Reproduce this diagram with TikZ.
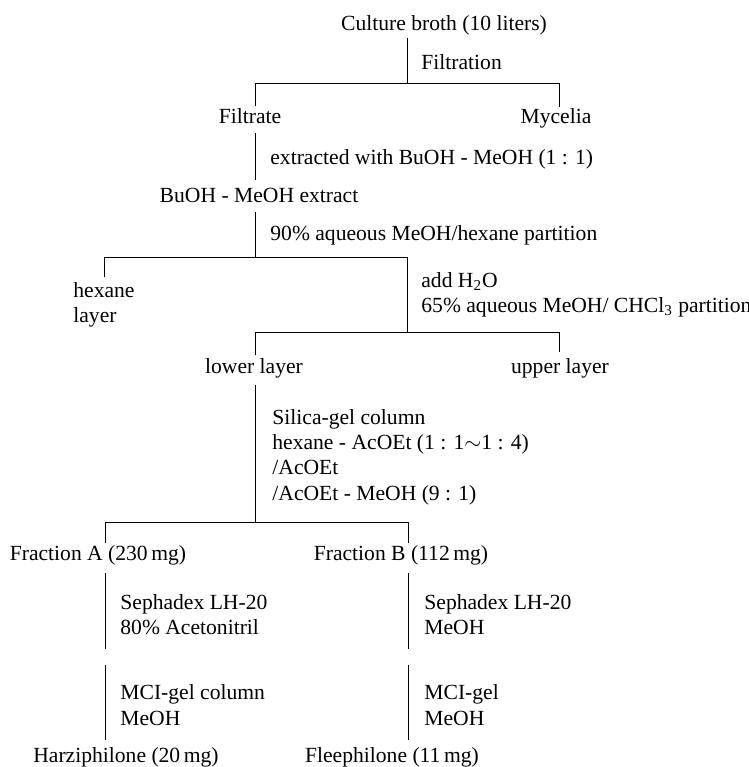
\documentclass[tikz,border=0pt]{standalone}
\usepackage{fontspec}
\setmainfont{Liberation Serif}
\begin{document}
\begin{tikzpicture}[x=0.5pt,y=-0.5pt,
  every node/.style={inner sep=0pt,font=\fontsize{10.8}{12.65}\selectfont},
  lbl/.style={anchor=west,align=left},
  item/.style={anchor=center,text height=0.72em,text depth=0.22em},
  conn/.style={line width=0.5pt}]
\useasboundingbox (0,0) rectangle (749,767);
% nodes
\node[item] (cb) at (444,25) {Culture broth (10 liters)};
\node[lbl] (filt) at (421,62) {Filtration};
\node[item] (filtrate) at (250,118) {Filtrate};
\node[item] (mycelia) at (556,118) {Mycelia};
\node[lbl] (extr) at (270,159) {extracted with BuOH - MeOH (1 : 1)};
\node[item] (extract) at (259,197) {BuOH - MeOH extract};
\node[lbl] (part1) at (270,235) {90\% aqueous MeOH/hexane partition};
\node[lbl] (hexane) at (73,304.5) {hexane\\layer};
\node[lbl] (part2) at (421,294.5) {add H\textsubscript{2}O\\65\% aqueous MeOH/ CHCl\textsubscript{3} partition};
\node[item] (lower) at (254,368) {lower layer};
\node[item] (upper) at (560,368) {upper layer};
\node[lbl] (silica) at (272,457) {Silica-gel column\\hexane - AcOEt (1 : 1$\sim$1 : 4)\\/AcOEt\\/AcOEt - MeOH (9 : 1)};
\node[item] (fa) at (98,555) {Fraction A (230\,mg)};
\node[item] (fb) at (401,555) {Fraction B (112\,mg)};
\node[lbl] (sepa) at (120,614.5) {Sephadex LH-20\\80\% Acetonitril};
\node[lbl] (sepb) at (424,614.5) {Sephadex LH-20\\MeOH};
\node[lbl] (mcia) at (120,705) {MCI-gel column\\MeOH};
\node[lbl] (mcib) at (424,705) {MCI-gel\\MeOH};
\node[item] (harz) at (126,757) {Harziphilone (20\,mg)};
\node[item] (flee) at (392,757) {Fleephilone (11\,mg)};
% junction coordinates
\coordinate (c1t) at (407,38);  \coordinate (c1) at (407,83);
\coordinate (c1l) at (255,83);  \coordinate (c1r) at (559,83);
\coordinate (c1lb) at (255,106); \coordinate (c1rb) at (559,107);
\coordinate (c2t) at (255,133); \coordinate (c2b) at (255,180);
\coordinate (c3t) at (255,212); \coordinate (c3) at (255,257);
\coordinate (c3l) at (104,257); \coordinate (c3r) at (407,257);
\coordinate (c3lb) at (104,277);
\coordinate (c4) at (407,332);
\coordinate (c4l) at (255,332); \coordinate (c4r) at (559,332);
\coordinate (c4lb) at (255,355); \coordinate (c4rb) at (559,352);
\coordinate (c5t) at (255,385); \coordinate (c5) at (255,522);
\coordinate (c5l) at (105,522); \coordinate (c5r) at (408,522);
\coordinate (c5lb) at (105,543); \coordinate (c5rb) at (408,543);
\coordinate (a1t) at (105,573); \coordinate (a1b) at (105,649);
\coordinate (b1t) at (408,573); \coordinate (b1b) at (408,649);
\coordinate (a2t) at (105,665); \coordinate (a2b) at (105,740);
\coordinate (b2t) at (408,665); \coordinate (b2b) at (408,740);
% connectors
\draw[conn] (c1t) -- (c1);
\draw[conn] (c1lb) -- (c1l) -- (c1r) -- (c1rb);
\draw[conn] (c2t) -- (c2b);
\draw[conn] (c3t) -- (c3);
\draw[conn] (c3lb) -- (c3l) -- (c3r) -- (c4);
\draw[conn] (c4lb) -- (c4l) -- (c4r) -- (c4rb);
\draw[conn] (c5t) -- (c5);
\draw[conn] (c5lb) -- (c5l) -- (c5r) -- (c5rb);
\draw[conn] (a1t) -- (a1b);
\draw[conn] (b1t) -- (b1b);
\draw[conn] (a2t) -- (a2b);
\draw[conn] (b2t) -- (b2b);
\end{tikzpicture}
\end{document}
